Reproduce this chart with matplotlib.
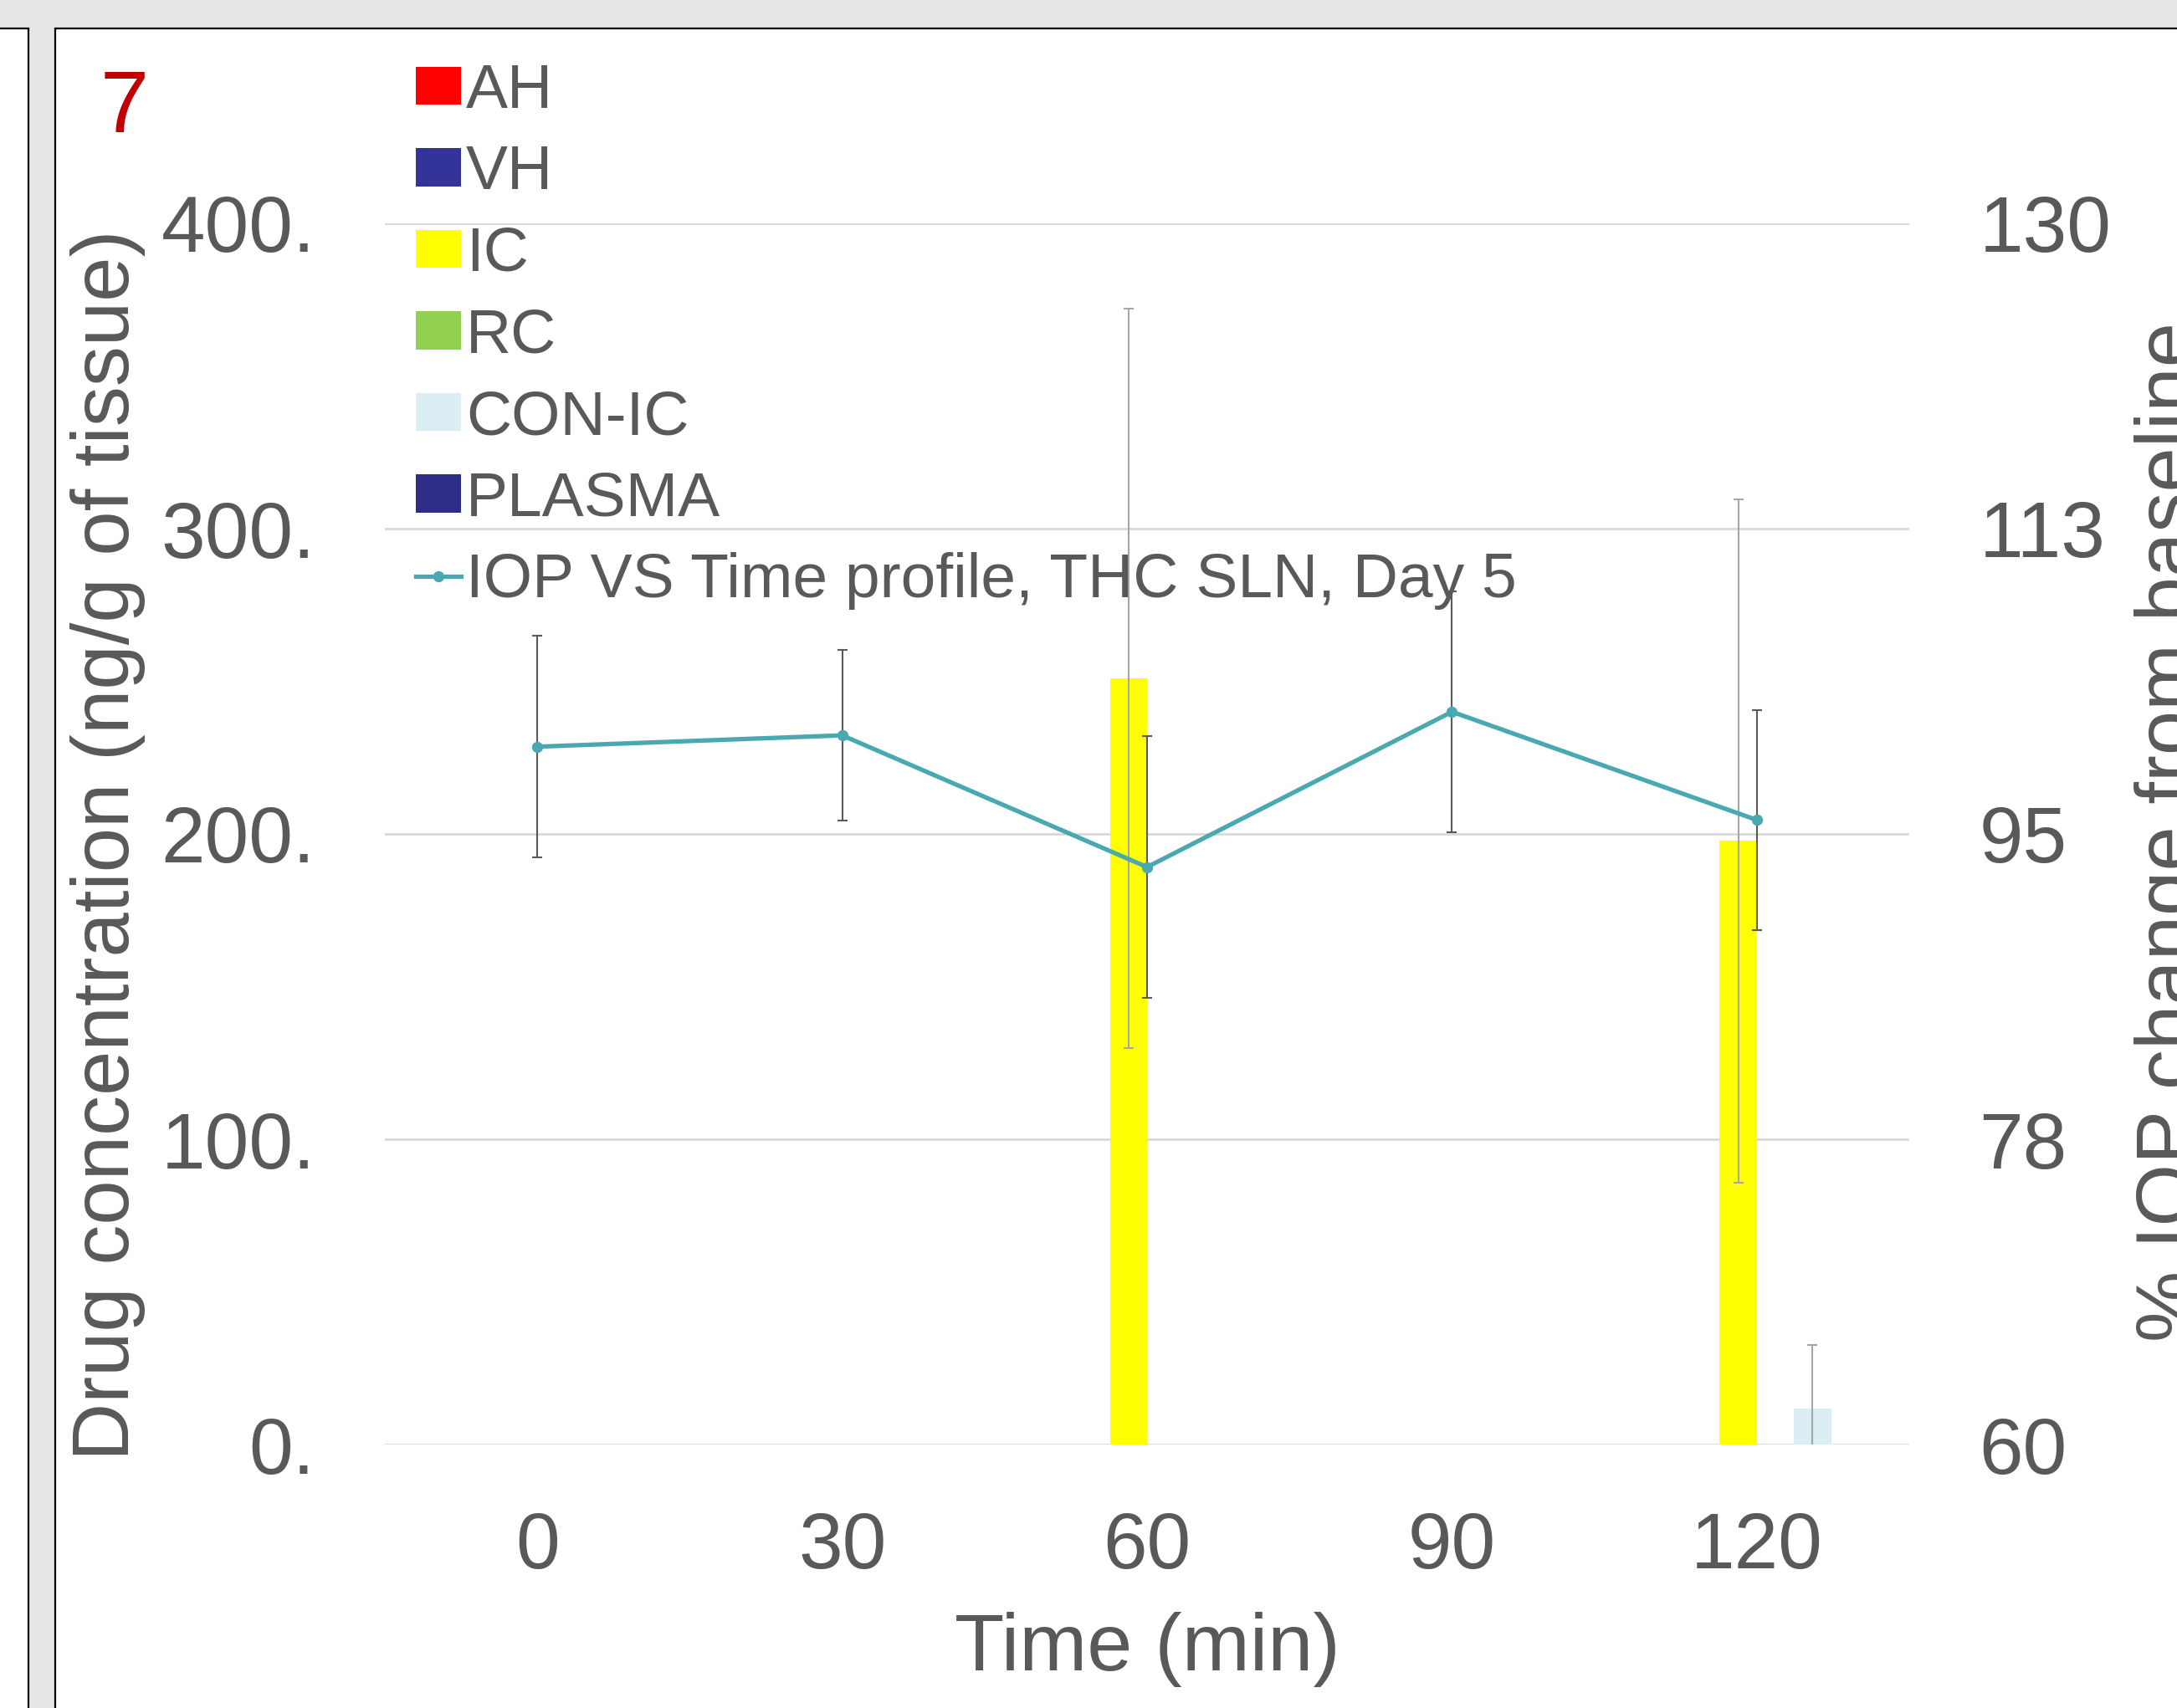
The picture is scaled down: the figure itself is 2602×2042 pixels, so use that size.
import numpy as np
import matplotlib
matplotlib.use("Agg")
import matplotlib.pyplot as plt
from matplotlib.patches import Patch, Rectangle
from matplotlib.lines import Line2D

plt.rcParams['font.family'] = ['Liberation Sans', 'DejaVu Sans']

# data
times = ['0', '30', '60', '90', '120']
series = ['AH', 'VH', 'IC', 'RC', 'CON-IC', 'PLASMA']
colors = ['#FF0000', '#333399', '#FFFF00', '#92D050', '#DAEEF3', '#2E2E88']
conc = {
    'AH': [0, 0, 0, 0, 0],
    'VH': [0, 0, 0, 0, 0],
    'IC': [0, 0, 251.0, 0, 197.7],
    'RC': [0, 0, 0, 0, 0],
    'CON-IC': [0, 0, 0, 0, 11.9],
    'PLASMA': [0, 0, 0, 0, 0],
}
conc_err = {
    'AH': [0, 0, 0, 0, 0],
    'VH': [0, 0, 0, 0, 0],
    'IC': [0, 0, 121.0, 0, 112.0],
    'RC': [0, 0, 0, 0, 0],
    'CON-IC': [0, 0, 0, 0, 20.8],
    'PLASMA': [0, 0, 0, 0, 0],
}
iop = [100.0, 100.65, 93.1, 102.0, 95.8]
iop_err = [6.35, 4.9, 7.5, 6.9, 6.3]
iop_label = 'IOP VS Time profile, THC SLN, Day 5'

left_ticks = [0, 100, 200, 300, 400]
left_ticklabels = ['0.', '100.', '200.', '300.', '400.']
right_ticks = [60, 77.5, 95, 112.5, 130]
right_ticklabels = ['60', '78', '95', '113', '130']

W, H = 2602, 2042
txt = '#595959'
grid_c = '#D9D9D9'
line_c = '#4AA8B2'

fig = plt.figure(figsize=(W / 100, H / 100), dpi=100, facecolor='#E6E6E6')

# panel backgrounds
fig.patches.append(Rectangle((-10 / W, -10 / H), 44 / W, (H - 34 + 10) / H, transform=fig.transFigure,
                             facecolor='white', edgecolor='black', linewidth=1.6, zorder=-10))
fig.patches.append(Rectangle((66 / W, -10 / H), (W - 66 + 20) / W, (H - 34 + 10) / H, transform=fig.transFigure,
                             facecolor='white', edgecolor='black', linewidth=1.6, zorder=-10))

ax = fig.add_axes([460 / W, 1 - 1727 / H, (2282 - 460) / W, (1727 - 267) / H])
ax.set_facecolor('none')
ax2 = ax.twinx()

x = np.arange(len(times))
w = 0.122
for k, s in enumerate(series):
    xs = x + (k - 2.5) * w
    ax.bar(xs, conc[s], width=w, color=colors[k], zorder=2)
    vals = np.array(conc[s])
    errs = np.array(conc_err[s])
    m = errs > 0
    if m.any():
        ax.errorbar(xs[m], vals[m], yerr=errs[m], fmt='none', ecolor='#A6A6A6',
                    elinewidth=1.5, capsize=4.5, capthick=1.5, zorder=3)

ax.set_xlim(-0.5, 4.5)
ax.set_ylim(0, 400)
ax.set_yticks(left_ticks)
ax.set_yticklabels(left_ticklabels)
ax.set_xticks(x)
ax.set_xticklabels(times)
ax.yaxis.grid(True, color=grid_c, linewidth=2.0)
ax.set_axisbelow(True)
for sp in ax.spines.values():
    sp.set_visible(False)
for sp in ax2.spines.values():
    sp.set_visible(False)
ax.tick_params(axis='y', length=0, pad=60, labelsize=68, labelcolor=txt)
ax.tick_params(axis='x', length=0, pad=57, labelsize=68, labelcolor=txt)

ax2.errorbar(x, iop, yerr=iop_err, fmt='none', ecolor=txt, elinewidth=1.5,
             capsize=4.3, capthick=1.5, zorder=3)
ax2.plot(x, iop, color=line_c, linewidth=3.8, marker='o', markersize=8.6, zorder=4)
ax2.set_ylim(60, 130)
ax2.set_yticks(right_ticks)
ax2.set_yticklabels(right_ticklabels)
ax2.tick_params(axis='y', length=0, pad=60, labelsize=68, labelcolor=txt)

fig.text(129 / W, 1 - 1010 / H, 'Drug concentration (ng/g of tissue)', rotation=90,
         ha='center', va='center', fontsize=69, color=txt)
fig.text(2551 / W, 1 - 995 / H, '% IOP change from baseline', rotation=90,
         ha='left', va='center', fontsize=69, color=txt)
fig.text(1371 / W, 1 - 1972 / H, 'Time (min)', ha='center', va='center', fontsize=70, color=txt)
fig.text(120 / W, 1 - 158 / H, '7', ha='left', va='baseline', fontsize=75, color='#C00000')

handles = [Patch(facecolor=c, edgecolor='none') for c in colors]
handles.append(Line2D([], [], color=line_c, linewidth=3.8, marker='o', markersize=8.6))
labels = series + [iop_label]
leg = ax2.legend(handles, labels, loc='upper left', bbox_to_anchor=(497 / W, 1 - 75 / H),
                 bbox_transform=fig.transFigure, frameon=False, fontsize=54,
                 handlelength=0.72, handleheight=0.55, handletextpad=0.08,
                 labelspacing=0.38, borderpad=0, borderaxespad=0)
for t in leg.get_texts():
    t.set_color(txt)

fig.savefig('out.png', dpi=100, facecolor=fig.get_facecolor())
